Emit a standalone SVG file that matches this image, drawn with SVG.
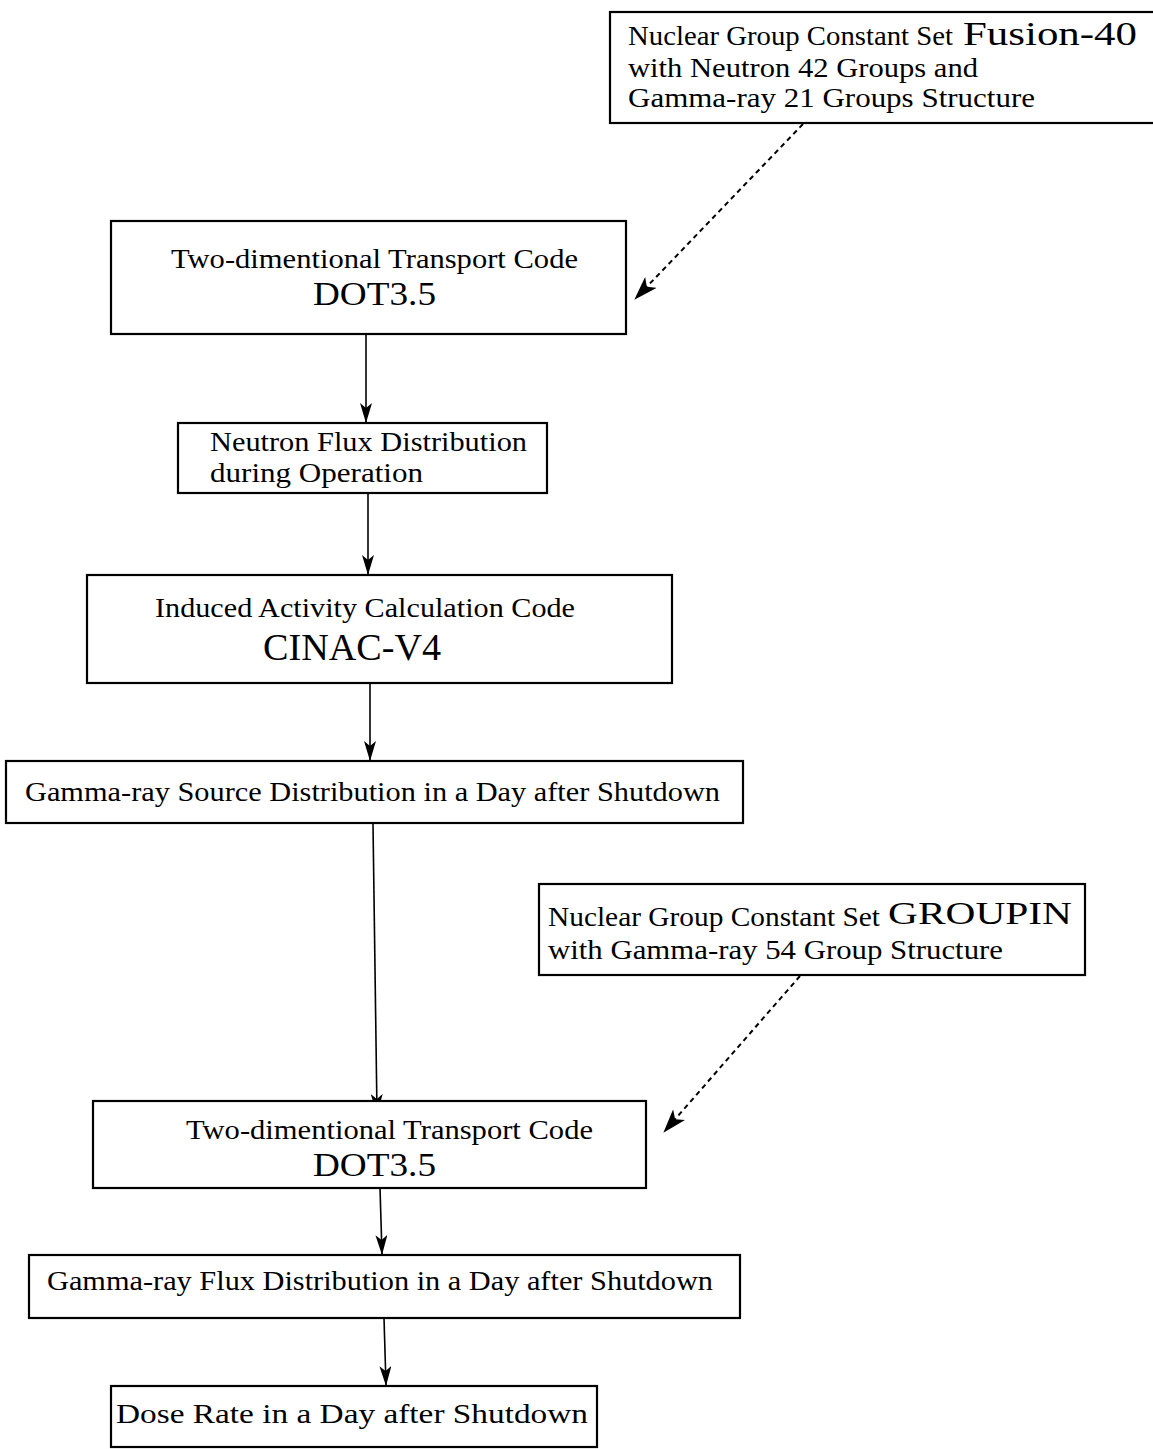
<svg xmlns="http://www.w3.org/2000/svg" width="1153" height="1449" viewBox="0 0 1153 1449">
<style>
.box{fill:#fff;stroke:#000;stroke-width:2.2}
.t{font-family:"Liberation Serif","Times New Roman",serif;font-size:27px;fill:#000}
.b{font-family:"Liberation Serif","Times New Roman",serif;font-size:34px;fill:#000}
.c{stroke:#000;stroke-width:1.6;fill:none}
.d{stroke:#000;stroke-width:2;fill:none;stroke-dasharray:5 4}
</style>
<defs>
<marker id="ah" viewBox="0 0 20 12" refX="19" refY="6" markerWidth="20" markerHeight="12" markerUnits="userSpaceOnUse" orient="auto">
<path d="M0,0 L20,6 L0,12 L5,6 Z" fill="#000"/>
</marker>
<marker id="ahd" viewBox="0 0 24 16" refX="23" refY="8" markerWidth="24" markerHeight="16" markerUnits="userSpaceOnUse" orient="auto">
<path d="M0,0 L24,8 L0,16 L6,8 Z" fill="#000"/>
</marker>
</defs>
<rect width="1153" height="1449" fill="#fff"/>
<g id="connectors">
<line class="d" x1="803" y1="124" x2="635" y2="299" marker-end="url(#ahd)"/>
<line class="c" x1="366" y1="334" x2="366" y2="422" marker-end="url(#ah)"/>
<line class="c" x1="368" y1="494" x2="368" y2="574" marker-end="url(#ah)"/>
<line class="c" x1="370" y1="684" x2="370" y2="760" marker-end="url(#ah)"/>
<line class="c" x1="373" y1="824" x2="377" y2="1113" marker-end="url(#ah)"/>
<line class="d" x1="800" y1="976" x2="664" y2="1132" marker-end="url(#ahd)"/>
<line class="c" x1="380" y1="1188" x2="382" y2="1254" marker-end="url(#ah)"/>
<line class="c" x1="384" y1="1318" x2="386" y2="1385" marker-end="url(#ah)"/>
</g>
<g id="n1">
<rect class="box" x="610" y="12" width="560" height="111"/>
<text class="t" x="628" y="45" textLength="325" lengthAdjust="spacingAndGlyphs">Nuclear Group Constant Set</text>
<text class="t" x="963" y="45" style="font-size:34px" textLength="174" lengthAdjust="spacingAndGlyphs">Fusion-40</text>
<text class="t" x="628" y="77" textLength="350" lengthAdjust="spacingAndGlyphs">with Neutron 42 Groups and</text>
<text class="t" x="628" y="107" textLength="407" lengthAdjust="spacingAndGlyphs">Gamma-ray 21 Groups Structure</text>
</g>
<g id="n2">
<rect class="box" x="111" y="221" width="515" height="113"/>
<text class="t" x="171" y="268" textLength="407" lengthAdjust="spacingAndGlyphs">Two-dimentional Transport Code</text>
<text class="b" x="313" y="305" textLength="123" lengthAdjust="spacingAndGlyphs">DOT3.5</text>
</g>
<g id="n3">
<rect class="box" x="178" y="423" width="369" height="70"/>
<text class="t" x="210" y="451" textLength="317" lengthAdjust="spacingAndGlyphs">Neutron Flux Distribution</text>
<text class="t" x="210" y="482" textLength="213" lengthAdjust="spacingAndGlyphs">during Operation</text>
</g>
<g id="n4">
<rect class="box" x="87" y="575" width="585" height="108"/>
<text class="t" x="155" y="617" textLength="420" lengthAdjust="spacingAndGlyphs">Induced Activity Calculation Code</text>
<text class="b" x="263" y="660" style="font-size:38px" textLength="178" lengthAdjust="spacingAndGlyphs">CINAC-V4</text>
</g>
<g id="n5">
<rect class="box" x="6" y="761" width="737" height="62"/>
<text class="t" x="25" y="801" textLength="695" lengthAdjust="spacingAndGlyphs">Gamma-ray Source Distribution in a Day after Shutdown</text>
</g>
<g id="n6">
<rect class="box" x="539" y="884" width="546" height="91"/>
<text class="t" x="548" y="926" textLength="332" lengthAdjust="spacingAndGlyphs">Nuclear Group Constant Set</text>
<text class="t" x="888" y="924" style="font-size:32px" textLength="184" lengthAdjust="spacingAndGlyphs">GROUPIN</text>
<text class="t" x="548" y="959" textLength="455" lengthAdjust="spacingAndGlyphs">with Gamma-ray 54 Group Structure</text>
</g>
<g id="n7">
<rect class="box" x="93" y="1101" width="553" height="87"/>
<text class="t" x="186" y="1139" textLength="407" lengthAdjust="spacingAndGlyphs">Two-dimentional Transport Code</text>
<text class="b" x="313" y="1176" textLength="123" lengthAdjust="spacingAndGlyphs">DOT3.5</text>
</g>
<g id="n8">
<rect class="box" x="29" y="1255" width="711" height="63"/>
<text class="t" x="47" y="1290" textLength="666" lengthAdjust="spacingAndGlyphs">Gamma-ray Flux Distribution in a Day after Shutdown</text>
</g>
<g id="n9">
<rect class="box" x="111" y="1386" width="486" height="61"/>
<text class="t" x="116" y="1423" textLength="472" lengthAdjust="spacingAndGlyphs">Dose Rate in a Day after Shutdown</text>
</g>
</svg>
